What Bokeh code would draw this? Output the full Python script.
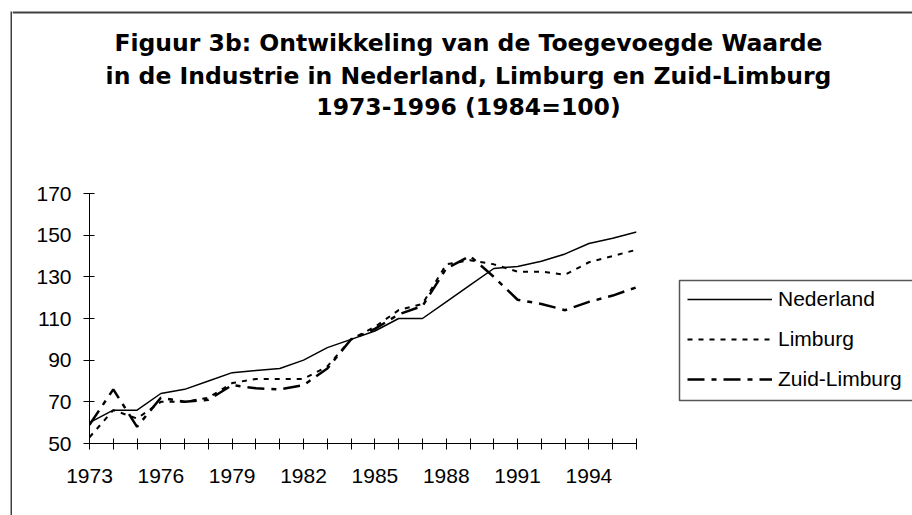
from bokeh.plotting import figure
from bokeh.models import Range1d, FixedTicker, Legend, LegendItem
from bokeh.layouts import row, column
from bokeh.core.properties import value
from bokeh.embed import file_html
from bokeh.resources import INLINE

# ---- data ----
years = list(range(1973, 1997))
nederland = [60, 66, 66, 74, 76, 80, 84, 85, 86, 90, 96, 100,
             104, 110, 110, 118, 126, 134, 135, 137.5, 141, 146, 148.5, 151.5]
limburg = [53, 66, 62, 70, 70, 72, 79, 81, 81, 81, 87, 100,
           106, 114, 117, 136, 138, 136, 132.5, 132.5, 131, 137, 140, 143]
zuid_limburg = [59, 76, 58, 72, 70, 71, 78, 76.5, 76, 78, 86, 100,
                105, 112, 116, 134, 140, 130, 119, 117, 114, 118, 121, 125]
series_names = ["Nederland", "Limburg", "Zuid-Limburg"]
label_years = [1973, 1976, 1979, 1982, 1985, 1988, 1991, 1994]
y_ticks = [50, 70, 90, 110, 130, 150, 170]
title_lines = ["Figuur 3b: Ontwikkeling van de Toegevoegde Waarde",
               "in de Industrie in Nederland, Limburg en Zuid-Limburg",
               "1973-1996 (1984=100)"]

# ---- styles ----
series_styles = [dict(line_color="black", line_width=1.5),
                 dict(line_color="black", line_width=2, line_dash="5 6"),
                 dict(line_color="black", line_width=2.5, line_dash="17 7 5 7")]
BORDER = "#404040"
TOTAL_W, TOTAL_H = 912, 515
LEFT_W = 12
TITLE_H = 175
MAIN_W = 634
BOTTOM_H = TOTAL_H - TITLE_H
MB_TOP, MB_BOTTOM = 18, 72
FRAME_H = BOTTOM_H - MB_TOP - MB_BOTTOM


def blank(width, height, x_range, y_range, **kw):
    f = figure(width=width, height=height, x_range=x_range, y_range=y_range,
               output_backend="svg", toolbar_location=None,
               x_axis_location=None, y_axis_location=None, **kw)
    f.grid.visible = False
    f.outline_line_color = None
    f.background_fill_color = "white"
    f.border_fill_color = "white"
    return f


# left strip with the chart's outer border line
border_fig = blank(LEFT_W, TOTAL_H, Range1d(0, LEFT_W), Range1d(TOTAL_H, 0), min_border=0)
border_fig.segment(x0=[11], y0=[11], x1=[11], y1=[TOTAL_H], line_color=BORDER, line_width=2)

# title area
title_w = TOTAL_W - LEFT_W
title_fig = blank(title_w, TITLE_H, Range1d(0, title_w), Range1d(TITLE_H, 0), min_border=0)
title_fig.segment(x0=[0], y0=[12], x1=[title_w], y1=[12], line_color=BORDER, line_width=2)
title_fig.text(x=[456, 456, 456], y=[42, 75, 106], text=title_lines,
               text_align="center", text_baseline="middle",
               text_font=value("DejaVu Sans"), text_font_style="bold",
               text_font_size="23.5px", text_color="black")

# main chart
p = figure(width=MAIN_W, height=BOTTOM_H, output_backend="svg", toolbar_location=None,
           x_range=Range1d(years[0], years[-1]), y_range=Range1d(y_ticks[0], y_ticks[-1]),
           min_border_left=77, min_border_right=10, min_border_top=MB_TOP,
           min_border_bottom=MB_BOTTOM)
p.background_fill_color = "white"
p.border_fill_color = "white"
p.outline_line_color = None
p.xgrid.visible = False
p.ygrid.visible = False

for ax in (p.xaxis[0], p.yaxis[0]):
    ax.axis_line_color = "black"
    ax.axis_line_width = 1
    ax.major_tick_line_color = "black"
    ax.major_tick_in = 5
    ax.major_tick_out = 6
    ax.minor_tick_in = 0
    ax.minor_tick_out = 0
    ax.major_label_text_font = "Liberation Sans"
    ax.major_label_text_font_size = "21px"
    ax.major_label_text_color = "black"

p.xaxis.major_label_standoff = 19
p.yaxis.major_label_standoff = 12
p.xaxis.ticker = FixedTicker(ticks=years)
p.xaxis.major_label_overrides = {y: (str(y) if y in label_years else "") for y in years}
p.yaxis.ticker = FixedTicker(ticks=y_ticks)

for vals, st in zip([nederland, limburg, zuid_limburg], series_styles):
    p.line(years, vals, **st)

# legend area (box runs off the right edge as in the reference)
leg_w = TOTAL_W - LEFT_W - MAIN_W
leg_fig = blank(leg_w, BOTTOM_H, Range1d(0, leg_w), Range1d(FRAME_H, 0),
                min_border_left=0, min_border_right=0,
                min_border_top=MB_TOP, min_border_bottom=MB_BOTTOM)
leg_fig.quad(left=[33], right=[leg_w + 50], top=[87], bottom=[207],
             fill_color="white", line_color="#555555", line_width=1.5)
items = []
for name, vals, st in zip(series_names, [nederland, limburg, zuid_limburg], series_styles):
    # same series, outside this panel's visible range: only the legend swatch shows
    r = leg_fig.line(years, vals, **st)
    items.append(LegendItem(label=name, renderers=[r]))
legend = Legend(items=items, location=(41, 52), orientation="vertical",
                glyph_width=85, glyph_height=20, label_height=20,
                spacing=16, padding=8, margin=0, label_standoff=6,
                label_text_font="Liberation Sans", label_text_font_size="21px",
                label_text_color="black",
                border_line_color=None, background_fill_alpha=0)
leg_fig.add_layout(legend)

layout = row(border_fig, column(title_fig, row(p, leg_fig)))

open("out.html", "w").write(file_html(layout, INLINE))
